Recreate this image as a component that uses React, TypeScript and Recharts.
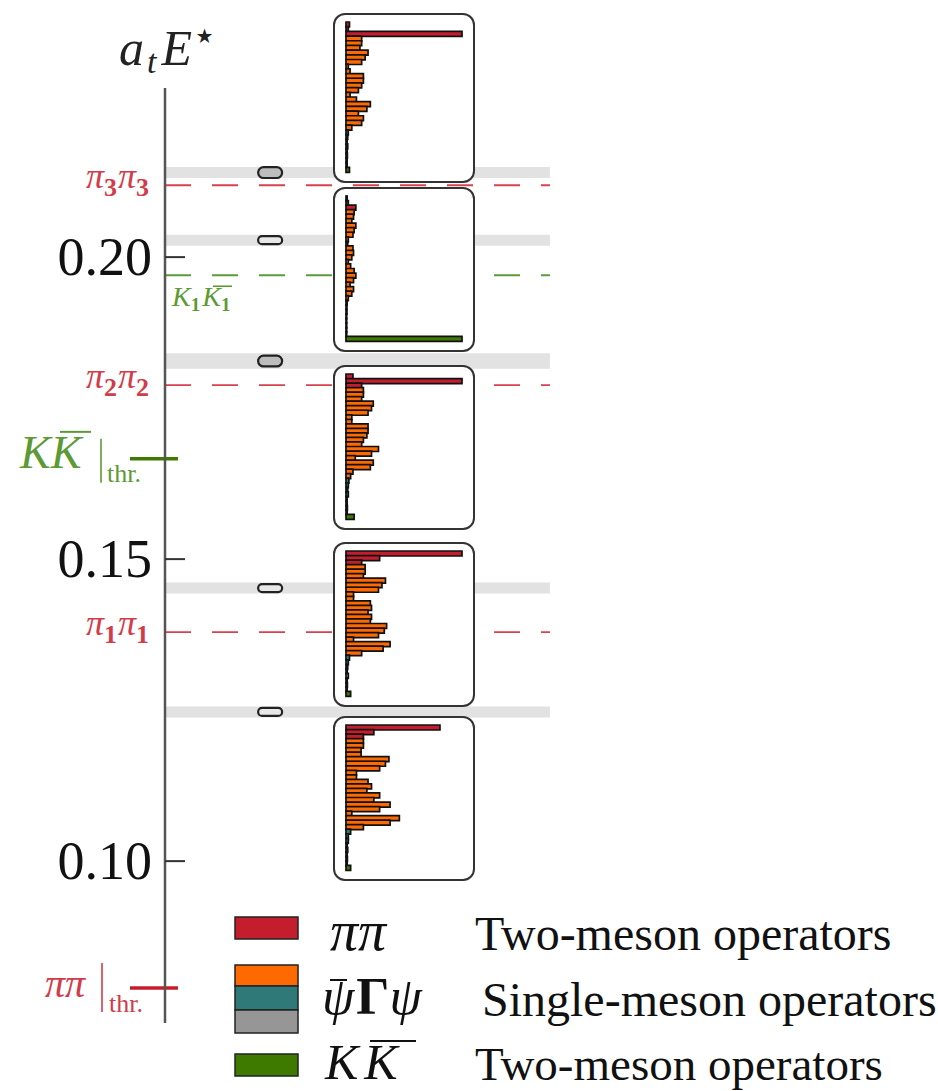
import React from "react";
import {
  Bar,
  BarChart,
  Cell,
  ComposedChart,
  ReferenceArea,
  ReferenceLine,
  Scatter,
  XAxis,
  YAxis,
} from "recharts";

// ---- data ----
const Y_DOMAIN: [number, number] = [0.0732, 0.228];
const Y_TICKS = [0.1, 0.15, 0.2];

// fitted finite-volume levels (top to bottom)
const LEVEL_ENERGY = [0.214, 0.2028, 0.1828, 0.1452, 0.1247];
const LEVEL_ERROR = [0.0009, 0.00066, 0.0009, 0.00066, 0.00066];
const LEVEL_BAND = [0.00091, 0.00091, 0.0013, 0.00091, 0.00091];
const LEVEL_FILL = ["#bdbdbd", "#e8e8e8", "#bdbdbd", "#e8e8e8", "#e8e8e8"];

// non-interacting levels
const PIPI_LEVELS = [0.2119, 0.1788, 0.1379];
const PIPI_LEVEL_NAMES = ["3", "2", "1"];
const KK_LEVEL = 0.197;
const KK_THRESHOLD = 0.1666;
const PIPI_THRESHOLD = 0.079;

// operator basis: 3 ππ, 20 ψ̄Γψ (orange), 4 teal, 4 gray, 1 KK̄
const OPERATOR_GROUPS = [
  "pipi", "pipi", "pipi",
  "qq", "qq", "qq", "qq", "qq", "qq", "qq", "qq", "qq", "qq",
  "qq", "qq", "qq", "qq", "qq", "qq", "qq", "qq", "qq", "qq",
  "teal", "teal", "teal", "teal",
  "gray", "gray", "gray", "gray",
  "kk",
];

// operator overlaps |Z|, one histogram per level (top to bottom)
const OVERLAPS_1 = [0.03, 0.02, 1.0, 0.135, 0.135, 0.12, 0.19, 0.165, 0.135, 0.02, 0.035, 0.15, 0.15, 0.135, 0.107, 0.035, 0.09, 0.21, 0.18, 0.107, 0.15, 0.135, 0.05, 0.02, 0.015, 0.01, 0.015, 0.01, 0.012, 0.01, 0.01, 0.03];
const OVERLAPS_2 = [0.01, 0.02, 0.085, 0.07, 0.065, 0.05, 0.085, 0.07, 0.06, 0.02, 0.015, 0.06, 0.065, 0.05, 0.02, 0.04, 0.07, 0.085, 0.065, 0.035, 0.065, 0.05, 0.02, 0.01, 0.008, 0.008, 0.006, 0.006, 0.006, 0.006, 0.006, 1.0];
const OVERLAPS_3 = [0.06, 1.0, 0.135, 0.15, 0.15, 0.135, 0.235, 0.22, 0.19, 0.05, 0.05, 0.19, 0.19, 0.18, 0.15, 0.135, 0.28, 0.22, 0.08, 0.235, 0.21, 0.06, 0.04, 0.025, 0.02, 0.015, 0.02, 0.01, 0.01, 0.012, 0.01, 0.07];
const OVERLAPS_4 = [1.0, 0.29, 0.135, 0.165, 0.165, 0.15, 0.34, 0.31, 0.28, 0.065, 0.065, 0.21, 0.22, 0.19, 0.22, 0.21, 0.35, 0.33, 0.28, 0.065, 0.38, 0.32, 0.135, 0.03, 0.02, 0.015, 0.01, 0.02, 0.01, 0.012, 0.01, 0.04];
const OVERLAPS_5 = [0.81, 0.24, 0.15, 0.15, 0.15, 0.13, 0.13, 0.37, 0.34, 0.29, 0.09, 0.09, 0.19, 0.22, 0.18, 0.29, 0.24, 0.38, 0.29, 0.05, 0.46, 0.38, 0.15, 0.04, 0.02, 0.02, 0.01, 0.015, 0.01, 0.012, 0.01, 0.04];
const OVERLAPS = [OVERLAPS_1, OVERLAPS_2, OVERLAPS_3, OVERLAPS_4, OVERLAPS_5];

// ---- styling / layout ----
const SERIF = '"Liberation Serif", "Times New Roman", serif';
const GROUP_COLORS: Record<string, string> = {
  pipi: "#c41e2e",
  qq: "#ff6a00",
  teal: "#2f7a78",
  gray: "#969696",
  kk: "#3f7a00",
};
const RED_TEXT = "#d23c4a";
const GREEN_TEXT = "#5c9a35";

const W = 938;
const H = 1091;
const MARGIN = { top: 88, right: 0, bottom: 68, left: 0 };
const AXIS_W = 165;
const PX_PER_UNIT = (H - MARGIN.top - MARGIN.bottom) / (Y_DOMAIN[1] - Y_DOMAIN[0]);
const PILL_X = 0.136;
const BAND_END = 0.498;
const THR_SEG: [number, number] = [-0.0453, 0.0168];

const BOX_LEFT = 333;
const BOX_W = 142;
const BOX_TOPS = [13, 187, 365, 542, 716];
const BOX_HEIGHTS = [170, 165, 165, 165, 165];

const levelPoints = LEVEL_ENERGY.map((y, i) => ({ x: PILL_X, y, err: LEVEL_ERROR[i], fill: LEVEL_FILL[i] }));

const Pill = (props: any) => {
  const { cx, cy, payload } = props;
  const h = payload.err * 2 * PX_PER_UNIT;
  return <rect x={cx - 12} y={cy - h / 2} width={24} height={h} rx={h / 2} fill={payload.fill} stroke="#222" strokeWidth={2.2} />;
};

const EnergyTick = (props: any) => {
  const { x, y, payload } = props;
  return (
    <g>
      <line x1={x} x2={x + 20} y1={y} y2={y} stroke="#333" strokeWidth={2} />
      <text x={x - 13} y={y} dy={18} textAnchor="end" fontSize={54} fontFamily={SERIF} fill="#111">
        {Number(payload.value).toFixed(2)}
      </text>
    </g>
  );
};

const pipiLabel = (n: string) => (props: any) => {
  const { viewBox } = props;
  const y = viewBox.y;
  return (
    <text x={viewBox.x - 16} y={y + 3} textAnchor="end" fontFamily={SERIF} fill={RED_TEXT}>
      <tspan fontStyle="italic" fontSize={36}>π</tspan>
      <tspan fontWeight="bold" fontSize={26} dy={8}>{n}</tspan>
      <tspan fontStyle="italic" fontSize={36} dy={-8} dx={1}>π</tspan>
      <tspan fontWeight="bold" fontSize={26} dy={8}>{n}</tspan>
    </text>
  );
};

const kkLevelLabel = (props: any) => {
  const { viewBox } = props;
  const x = viewBox.x + 7;
  const y = viewBox.y;
  return (
    <g fill={GREEN_TEXT}>
      <text x={x} y={y + 31} fontFamily={SERIF}>
        <tspan fontStyle="italic" fontSize={28}>K</tspan>
        <tspan fontWeight="bold" fontSize={19} dy={5}>1</tspan>
        <tspan fontStyle="italic" fontSize={28} dy={-5} dx={2}>K</tspan>
        <tspan fontWeight="bold" fontSize={19} dy={5}>1</tspan>
      </text>
      <line x1={x + 41} x2={x + 60} y1={y + 11} y2={y + 11} stroke={GREEN_TEXT} strokeWidth={1.6} />
    </g>
  );
};

const kkThresholdLabel = (props: any) => {
  const { viewBox } = props;
  const y = viewBox.y;
  return (
    <g>
      <text x={20} y={y + 9} fontFamily={SERIF} fontStyle="italic" fontSize={46} fill={GREEN_TEXT}>KK</text>
      <line x1={60} x2={91} y1={y - 27} y2={y - 27} stroke={GREEN_TEXT} strokeWidth={2} />
      <line x1={101} x2={101} y1={y - 20} y2={y + 24} stroke={GREEN_TEXT} strokeWidth={1.6} />
      <text x={107} y={y + 23} fontFamily={SERIF} fontSize={26} fill={GREEN_TEXT}>thr.</text>
    </g>
  );
};

const pipiThresholdLabel = (props: any) => {
  const { viewBox } = props;
  const y = viewBox.y;
  return (
    <g>
      <text x={45} y={y + 9} fontFamily={SERIF} fontStyle="italic" fontSize={40} fill={RED_TEXT}>ππ</text>
      <line x1={102} x2={102} y1={y - 25} y2={y + 24} stroke={RED_TEXT} strokeWidth={1.6} />
      <text x={109} y={y + 24} fontFamily={SERIF} fontSize={26} fill={RED_TEXT}>thr.</text>
    </g>
  );
};

function OverlapBox({ values, top, height }: { values: number[]; top: number; height: number }) {
  const data = OPERATOR_GROUPS.map((group, i) => ({ op: `${i}`, group, value: values[i] }));
  return (
    <div
      style={{
        position: "absolute",
        left: BOX_LEFT,
        top,
        width: BOX_W,
        height,
        boxSizing: "border-box",
        border: "2px solid #333",
        borderRadius: 12,
        background: "#fff",
      }}
    >
      <BarChart
        width={BOX_W - 4}
        height={height - 4}
        data={data}
        layout="vertical"
        barCategoryGap={0}
        margin={{ top: 7, right: 11, bottom: 9, left: 11 }}
      >
        <XAxis type="number" domain={[0, 1]} hide />
        <YAxis type="category" dataKey="op" hide />
        <Bar dataKey="value" isAnimationActive={false} stroke="#111" strokeWidth={1.7}>
          {data.map((d) => (
            <Cell key={d.op} fill={GROUP_COLORS[d.group]} />
          ))}
        </Bar>
      </BarChart>
    </div>
  );
}

function LegendBlock() {
  return (
    <svg width={W} height={H} style={{ position: "absolute", left: 0, top: 0, pointerEvents: "none" }}>
      <text x={119} y={65} fontFamily={SERIF} fontSize={50} fill="#222">
        <tspan fontStyle="italic">a</tspan>
        <tspan fontStyle="italic" fontSize={34} dy={8} dx={3}>t</tspan>
        <tspan fontStyle="italic" dy={-8} dx={5}>E</tspan>
        <tspan fontSize={40} dy={-16} fontFamily="DejaVu Sans">⋆</tspan>
      </text>

      <rect x={235} y={917} width={63} height={22} fill={GROUP_COLORS.pipi} stroke="#222" strokeWidth={1.5} />
      <text x={330} y={950} fontFamily={SERIF} fontStyle="italic" fontSize={56} fill="#111">ππ</text>
      <text x={475} y={950} fontFamily={SERIF} fontSize={48} fill="#111">Two-meson operators</text>

      <rect x={235} y={965} width={63} height={21} fill={GROUP_COLORS.qq} stroke="#222" strokeWidth={1.5} />
      <rect x={235} y={986} width={63} height={24} fill={GROUP_COLORS.teal} stroke="#222" strokeWidth={1.5} />
      <rect x={235} y={1010} width={63} height={23} fill={GROUP_COLORS.gray} stroke="#222" strokeWidth={1.5} />
      <text x={322} y={1014} fontFamily={SERIF} fontSize={52} fill="#111">
        <tspan fontStyle="italic">ψ</tspan>
        <tspan fontWeight="bold" dx={2}>Γ</tspan>
        <tspan fontStyle="italic">ψ</tspan>
      </text>
      <line x1={330} x2={347} y1={980} y2={980} stroke="#111" strokeWidth={2} />
      <text x={482} y={1016} fontFamily={SERIF} fontSize={48} fill="#111">Single-meson operators</text>

      <rect x={235} y={1054} width={63} height={22} fill={GROUP_COLORS.kk} stroke="#222" strokeWidth={1.5} />
      <text x={325} y={1079} fontFamily={SERIF} fontStyle="italic" fontSize={50} letterSpacing={6} fill="#111">KK</text>
      <line x1={370} x2={416} y1={1041} y2={1041} stroke="#111" strokeWidth={2.2} />
      <text x={475} y={1080} fontFamily={SERIF} fontSize={47} fill="#111">Two-meson operators</text>
    </svg>
  );
}

export default function App() {
  return (
    <div style={{ position: "absolute", left: 0, top: 0, width: W, height: H, background: "#fff", fontFamily: SERIF }}>
      <ComposedChart width={W} height={H} margin={MARGIN}>
        <XAxis type="number" dataKey="x" domain={[0, 1]} hide />
        <YAxis
          type="number"
          dataKey="y"
          domain={Y_DOMAIN}
          ticks={Y_TICKS}
          allowDataOverflow
          width={AXIS_W}
          tickSize={0}
          tickMargin={0}
          tickLine={false}
          axisLine={{ stroke: "#555", strokeWidth: 2.5 }}
          tick={<EnergyTick />}
        />
        {LEVEL_ENERGY.map((e, i) => (
          <ReferenceArea
            key={`band-${i}`}
            x1={0}
            x2={BAND_END}
            y1={e - LEVEL_BAND[i]}
            y2={e + LEVEL_BAND[i]}
            fill="#e2e2e2"
            fillOpacity={1}
            stroke="none"
          />
        ))}
        {PIPI_LEVELS.map((e, i) => (
          <ReferenceLine
            key={`pipi-${i}`}
            segment={[{ x: 0, y: e }, { x: BAND_END, y: e }]}
            stroke="#d9414f"
            strokeWidth={1.8}
            strokeDasharray="26 21"
            label={pipiLabel(PIPI_LEVEL_NAMES[i])}
          />
        ))}
        <ReferenceLine
          segment={[{ x: 0, y: KK_LEVEL }, { x: BAND_END, y: KK_LEVEL }]}
          stroke="#5c9a3c"
          strokeWidth={1.8}
          strokeDasharray="26 21"
          label={kkLevelLabel}
        />
        <ReferenceLine
          segment={[{ x: THR_SEG[0], y: KK_THRESHOLD }, { x: THR_SEG[1], y: KK_THRESHOLD }]}
          ifOverflow="visible"
          stroke="#3f7a00"
          strokeWidth={3.5}
          label={kkThresholdLabel}
        />
        <ReferenceLine
          segment={[{ x: THR_SEG[0], y: PIPI_THRESHOLD }, { x: THR_SEG[1], y: PIPI_THRESHOLD }]}
          ifOverflow="visible"
          stroke="#c41e2e"
          strokeWidth={3.5}
          label={pipiThresholdLabel}
        />
        <Scatter data={levelPoints} isAnimationActive={false} shape={<Pill />} />
      </ComposedChart>
      <LegendBlock />
      {OVERLAPS.map((values, i) => (
        <OverlapBox key={i} values={values} top={BOX_TOPS[i]} height={BOX_HEIGHTS[i]} />
      ))}
    </div>
  );
}
